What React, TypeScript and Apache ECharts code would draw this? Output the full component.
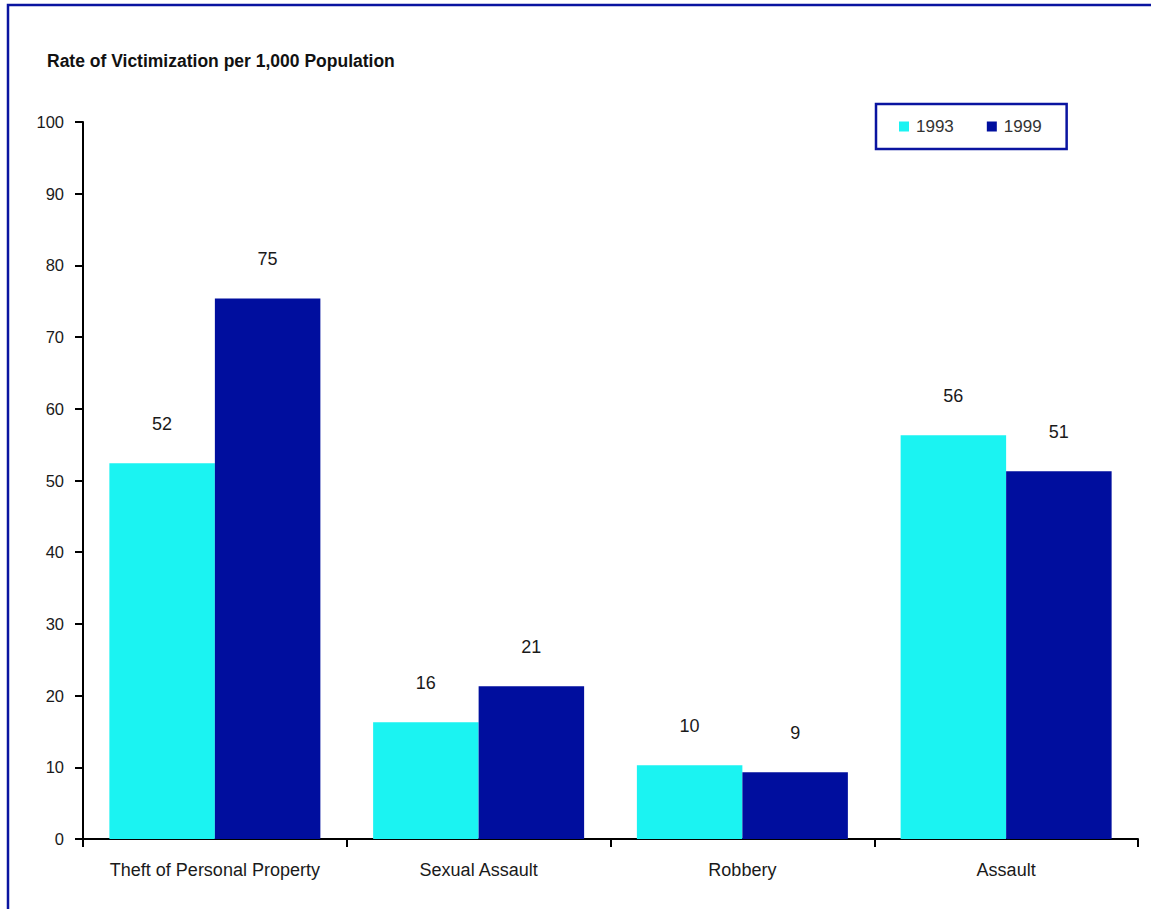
import React, { useEffect, useRef } from "react";
import * as echarts from "echarts";

// Victimization rates per 1,000 population, by crime type
const categories = ["Theft of Personal Property", "Sexual Assault", "Robbery", "Assault"];
const seriesNames = ["1993", "1999"];
const rates1993 = [52.4, 16.3, 10.3, 56.3];
const rates1999 = [75.4, 21.3, 9.3, 51.3];
const yTicks = { min: 0, max: 100, interval: 10 };

const FONT = "'Liberation Sans', Arial, sans-serif";
const CYAN = "#1BF3F2";
const NAVY = "#000E9E";
const FRAME = "#0A14A0";

export default function App() {
  const ref = useRef<HTMLDivElement>(null);

  useEffect(() => {
    document.body.style.margin = "0";
    if (!ref.current) return;
    const chart = echarts.init(ref.current, undefined, { renderer: "svg" });

    const labelStyle = {
      show: true,
      position: "top" as const,
      distance: 30,
      fontFamily: FONT,
      fontSize: 18,
      color: "#1a1a1a",
      formatter: (p: any) => String(Math.round(p.value)),
    };

    chart.setOption({
      animation: false,
      backgroundColor: "#ffffff",
      textStyle: { fontFamily: FONT },
      graphic: [
        {
          type: "rect",
          shape: { x: 8, y: 5, width: 1200, height: 1000 },
          style: { fill: "none", stroke: FRAME, lineWidth: 2.5 },
          silent: true,
        },
        {
          type: "text",
          left: 47,
          top: 52,
          style: {
            text: "Rate of Victimization per 1,000 Population",
            fontFamily: FONT,
            fontSize: 17.5,
            fontWeight: "bold",
            fill: "#111111",
          },
        },
      ],
      legend: {
        data: seriesNames,
        left: 876,
        top: 104,
        orient: "horizontal",
        icon: "rect",
        itemWidth: 10,
        itemHeight: 10,
        itemGap: 33,
        padding: [14, 25, 14, 23],
        borderColor: FRAME,
        borderWidth: 2.5,
        textStyle: { fontFamily: FONT, fontSize: 17, color: "#333333", padding: [0, 0, 0, 2] },
      },
      grid: { left: 83, right: 13, top: 122, bottom: 70, containLabel: false },
      xAxis: {
        type: "category",
        data: categories,
        axisLine: { lineStyle: { color: "#000000", width: 2 } },
        axisTick: { show: true, interval: 0, length: 8, lineStyle: { color: "#000000", width: 2 } },
        axisLabel: { interval: 0, margin: 22, fontFamily: FONT, fontSize: 18, color: "#1a1a1a" },
        splitLine: { show: false },
      },
      yAxis: {
        type: "value",
        min: yTicks.min,
        max: yTicks.max,
        interval: yTicks.interval,
        axisLine: { show: true, lineStyle: { color: "#000000", width: 2 } },
        axisTick: { show: true, length: 8, lineStyle: { color: "#000000", width: 2 } },
        axisLabel: { margin: 19, fontFamily: FONT, fontSize: 16.5, color: "#1a1a1a" },
        splitLine: { show: false },
      },
      series: [
        {
          name: seriesNames[0],
          type: "bar",
          data: rates1993,
          itemStyle: { color: CYAN },
          barGap: "0%",
          barCategoryGap: "20%",
          label: labelStyle,
        },
        {
          name: seriesNames[1],
          type: "bar",
          data: rates1999,
          itemStyle: { color: NAVY },
          barGap: "0%",
          barCategoryGap: "20%",
          label: labelStyle,
        },
      ],
    });

    return () => chart.dispose();
  }, []);

  return <div ref={ref} style={{ width: 1151, height: 909 }} />;
}
